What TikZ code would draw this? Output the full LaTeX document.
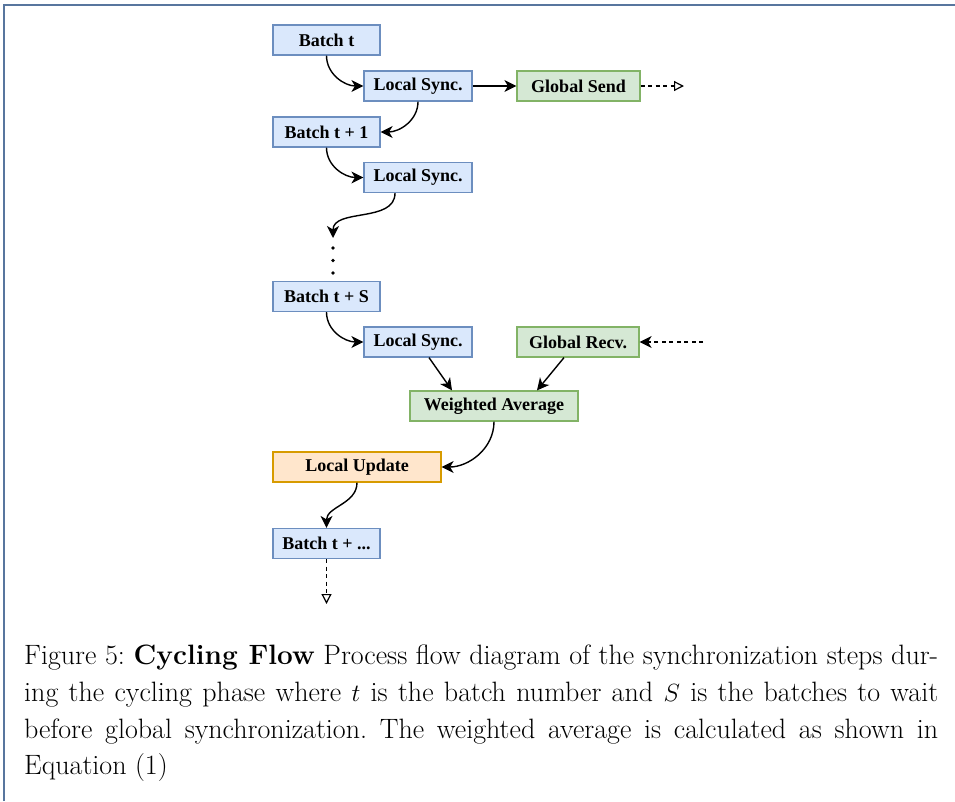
\documentclass[tikz,border=0pt]{standalone}
\usepackage{fontspec}
\newfontfamily\boxfont{Liberation Serif}
\usetikzlibrary{arrows.meta}
\definecolor{frameblue}{RGB}{88,118,158}
\definecolor{bfill}{HTML}{DAE8FC}
\definecolor{bdraw}{HTML}{6C8EBF}
\definecolor{gfill}{HTML}{D5E8D4}
\definecolor{gdraw}{HTML}{82B366}
\definecolor{ofill}{HTML}{FFE6CC}
\definecolor{odraw}{HTML}{D79B00}
\begin{document}
\begin{tikzpicture}[x=1pt,y=-1pt,
  box/.style={draw, line width=1.2pt, minimum height=30pt, inner sep=0pt,
    font=\boxfont\bfseries\fontsize{18}{20}\selectfont},
  bluebox/.style={box, fill=bfill, draw=bdraw},
  greenbox/.style={box, fill=gfill, draw=gdraw},
  orangebox/.style={box, fill=ofill, draw=odraw},
  arr/.style={line width=1.4pt, -{Stealth[length=12pt,width=12pt,inset=3.5pt]}},
  darr/.style={line width=1.2pt, dash pattern=on 4pt off 3.5pt},
  openhead/.style={-{Triangle[open,length=10pt,width=10pt,line width=1.2pt]}},
]
\useasboundingbox (0,0) rectangle (955,801);
\draw[frameblue, line width=1.6pt] (4,801) -- (4,5) -- (955,5);

\node[bluebox, minimum width=107pt] (bt) at (326.5,40) {Batch t};
\node[bluebox, minimum width=108pt] (ls1) at (418,86) {Local Sync.};
\node[greenbox, minimum width=123pt] (gs) at (578.5,86) {Global Send};
\node[bluebox, minimum width=107pt] (bt1) at (326.5,132) {Batch t + 1};
\node[bluebox, minimum width=108pt] (ls2) at (418,177.5) {Local Sync.};
\node[bluebox, minimum width=107pt] (bts) at (326.5,296.5) {Batch t + S};
\node[bluebox, minimum width=108pt] (ls3) at (418,342) {Local Sync.};
\node[greenbox, minimum width=122pt] (gr) at (578,342) {Global Recv.};
\node[greenbox, minimum width=168pt] (wa) at (494,406) {Weighted Average};
\node[orangebox, minimum width=168pt] (lu) at (357,467) {Local Update};
\node[bluebox, minimum width=107pt] (btd) at (326.5,543.5) {Batch t + ...};

\coordinate (sendend) at (684,86);
\coordinate (recvstart) at (703,342);
\coordinate (dtop) at (333,238);
\coordinate (dotsA) at (333,248);
\coordinate (dotsB) at (333,260.5);
\coordinate (dotsC) at (333,273);
\coordinate (downend) at (326.5,604);

\fill (dotsA) circle (1.8pt) (dotsB) circle (1.8pt) (dotsC) circle (1.8pt);

\draw[arr] (bt.south) to[out=-90,in=180] (ls1.west);
\draw[arr] (ls1.east) -- (gs.west);
\draw[darr, openhead] (gs.east) -- (sendend);
\draw[arr] (ls1.south) to[out=-90,in=0] (bt1.east);
\draw[arr] (bt1.south) to[out=-90,in=180] (ls2.west);
\draw[arr] (ls2.south -| 395,0) to[out=-90,in=90] (dtop);
\draw[arr] (bts.south) to[out=-90,in=180] (ls3.west);
\draw[arr, dash pattern=on 4pt off 3.5pt] (recvstart) -- (gr.east);
\draw[arr] (ls3.south -| 429,0) -- (wa.north -| 452,0);
\draw[arr] (gr.south -| 564,0) -- (wa.north -| 537,0);
\draw[arr] (wa.south) to[out=-90,in=0] (lu.east);
\draw[arr] (lu.south) to[out=-90,in=90] (btd.north);
\draw[darr, openhead] (btd.south) -- (downend);

\node[anchor=north west, inner sep=0pt, text width=914pt, align=justify,
  font=\fontsize{28}{36.7}\selectfont\frenchspacing] (cap) at (24,645)
  {Figure 5: \textbf{Cycling Flow} Process flow diagram of the synchronization steps dur-\linebreak ing the cycling phase where $t$ is the batch number and $S$ is the batches to wait\linebreak before global synchronization. The weighted average is calculated as shown in\linebreak Equation (1)};
\end{tikzpicture}
\end{document}
